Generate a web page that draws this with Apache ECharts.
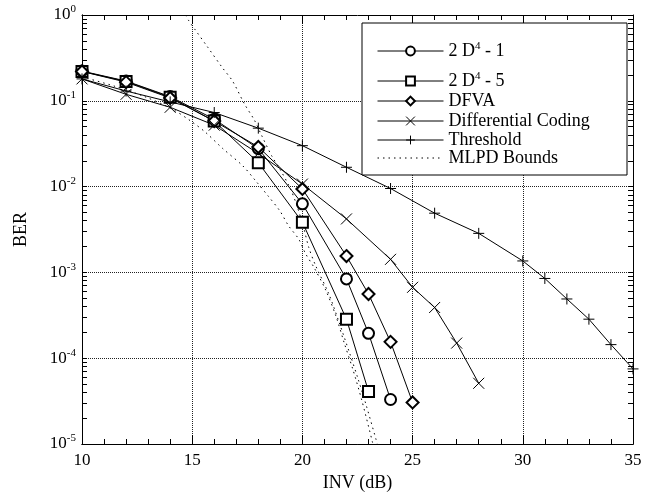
<!DOCTYPE html>
<html>
<head>
<meta charset="utf-8">
<script src="https://cdn.jsdelivr.net/npm/echarts@6/dist/echarts.min.js"></script>
<style>
html, body { margin: 0; padding: 0; background: #fff; }
#chart { width: 647px; height: 497px; }
</style>
</head>
<body>
<div id="chart"></div>
<script>
// values (BER vs INV in dB)
var xD4_1 = [10, 12, 14, 16, 18, 20, 22, 23, 24];
var yD4_1 = [0.222, 0.17, 0.112, 0.061, 0.0277, 0.0063, 8.4e-4, 1.95e-4, 3.3e-5];

var xD4_5 = [10, 12, 14, 16, 18, 20, 22, 23];
var yD4_5 = [0.22, 0.168, 0.11, 0.058, 0.019, 0.00385, 2.85e-4, 4.1e-5];

var xDfva = [10, 12, 14, 16, 18, 20, 22, 23, 24, 25];
var yDfva = [0.22, 0.165, 0.108, 0.058, 0.029, 0.0094, 0.00155, 5.6e-4, 1.55e-4, 3.05e-5];

var xDiff = [10, 12, 14, 16, 18, 20, 22, 24, 25, 26, 27, 28];
var yDiff = [0.18, 0.119, 0.084, 0.052, 0.0243, 0.0107, 0.0042, 0.00142, 6.7e-4, 3.9e-4, 1.5e-4, 5.1e-5];

var xThr = [10, 12, 14, 16, 18, 20, 22, 24, 26, 28, 30, 31, 32, 33, 34, 35];
var yThr = [0.18, 0.13, 0.097, 0.073, 0.048, 0.030, 0.0168, 0.0095, 0.0049, 0.00285, 0.00136, 8.5e-4, 4.9e-4, 2.85e-4, 1.44e-4, 7.5e-5];

// MLPD bounds, two dotted curves
var xBndUp = [14.7, 14.83, 15.14, 15.68, 16.37, 16.83, 17.37, 17.83, 18.14, 18.6, 18.98, 19.45, 19.75, 20.06, 20.29, 20.6, 21.2, 21.67, 22.14, 22.52, 22.9, 23.4];
var yBndUp = [1.0, 0.87, 0.67, 0.43, 0.243, 0.17, 0.092, 0.059, 0.04, 0.023, 0.016, 0.0095, 0.006, 0.0033, 0.00195, 0.0012, 5.6e-4, 2.6e-4, 1.15e-4, 5.8e-5, 2.8e-5, 1e-5];
var xBndLo = [10, 11.44, 12.8, 14.06, 14.98, 15.6, 16.37, 17.3, 17.9, 18.44, 18.98, 19.37, 19.83, 20.14, 20.52, 21.06, 21.52, 21.9, 22.29, 22.7, 23.2];
var yBndLo = [0.19, 0.149, 0.113, 0.081, 0.057, 0.043, 0.028, 0.0174, 0.0115, 0.0078, 0.0052, 0.0035, 0.00245, 0.00166, 0.00115, 6.2e-4, 3.1e-4, 1.5e-4, 7.4e-5, 3.2e-5, 1e-5];

var legendNames = ['2 D4 - 1', '2 D4 - 5', 'DFVA', 'Differential Coding', 'Threshold', 'MLPD Bounds'];
var legendRows = [51, 81, 102, 122, 141, 159];

var yTicks = [];
for (var e = -5; e < 0; e++) {
    for (var k = 1; k <= 9; k++) yTicks.push(+(k * Math.pow(10, e)).toPrecision(3));
}
yTicks.push(1);

function pairs(xs, ys) {
    return xs.map(function (x, i) { return [x, ys[i]]; });
}

var font = 'Liberation Serif';
var xMark = 'path://M0,0L10,10M10,0L0,10';
var plusMark = 'path://M5,0L5,10M0,5L10,5';

function lineSeries(name, data, symbol, size) {
    return {
        name: name,
        type: 'line',
        data: data,
        symbol: symbol,
        symbolSize: size,
        showSymbol: true,
        lineStyle: { color: '#000', width: 1 },
        itemStyle: { color: '#000', borderColor: '#000', borderWidth: 1 },
        emphasis: { disabled: true }
    };
}

// axis that only draws the frame line and inward ticks
function xTickAxis(pos) {
    return {
        type: 'value', position: pos,
        min: 10, max: 35, interval: 5,
        axisLine: { show: true, lineStyle: { color: '#000', width: 1 } },
        axisTick: { show: true, inside: true, length: 9, lineStyle: { color: '#000', width: 1 } },
        minorTick: { show: true, splitNumber: 5, length: 5, lineStyle: { color: '#000', width: 1 } },
        axisLabel: { show: false },
        splitLine: { show: false }
    };
}
function yTickAxis(pos) {
    return {
        type: 'log', position: pos,
        min: 1e-5, max: 1,
        axisLine: { show: true, lineStyle: { color: '#000', width: 1 } },
        axisTick: { show: true, inside: true, length: 5, customValues: yTicks, lineStyle: { color: '#000', width: 1 } },
        axisLabel: { show: false },
        splitLine: { show: false }
    };
}

var chart = echarts.init(document.getElementById('chart'));

var legends = legendNames.map(function (n, i) {
    return {
        data: [n],
        left: 377,
        top: legendRows[i] - 10,
        padding: 0,
        itemWidth: 66,
        itemHeight: 11,
        selectedMode: false,
        lineStyle: { width: 1 },
        itemStyle: n === 'MLPD Bounds' ? { opacity: 0 } : { borderWidth: 1 },
        formatter: function (name) {
            if (name.indexOf('2 D4') === 0) return '{t|2 D}{s|4}{t|' + name.slice(4) + '}';
            return '{t|' + name + '}';
        },
        textStyle: {
            fontFamily: font, fontSize: 18, color: '#000',
            rich: {
                t: { fontFamily: font, fontSize: 18, lineHeight: 20, color: '#000' },
                s: { fontFamily: font, fontSize: 11, lineHeight: 10, verticalAlign: 'top', color: '#000' }
            }
        }
    };
});

var option = {
    grid: { left: 82, right: 14, top: 15, bottom: 48 },
    legend: legends,
    graphic: [{
        type: 'rect',
        shape: { x: 362, y: 23, width: 265, height: 152 },
        style: { fill: '#fff', stroke: '#000', lineWidth: 1 },
        z: 4
    }],
    xAxis: [{
        type: 'value',
        min: 10, max: 35, interval: 5,
        name: 'INV (dB)', nameLocation: 'middle', nameGap: 30,
        nameTextStyle: { fontFamily: font, fontSize: 18, color: '#000' },
        axisLine: { show: true, lineStyle: { color: '#000', width: 1 } },
        axisTick: { show: false },
        axisLabel: { fontFamily: font, fontSize: 17, color: '#000', margin: 8 },
        splitLine: { show: true, lineStyle: { type: 'dotted', color: '#222', width: 1 } }
    }, xTickAxis('bottom'), xTickAxis('top')],
    yAxis: [{
        type: 'log',
        min: 1e-5, max: 1,
        name: 'BER', nameLocation: 'middle', nameGap: 52, nameRotate: 90,
        nameTextStyle: { fontFamily: font, fontSize: 18, color: '#000' },
        axisLine: { show: true, lineStyle: { color: '#000', width: 1 } },
        axisTick: { show: false },
        axisLabel: {
            margin: 6,
            formatter: function (v) {
                return '{b|10}{s|' + Math.round(Math.log10(v)) + '}';
            },
            rich: {
                b: { fontFamily: font, fontSize: 17, lineHeight: 22, color: '#000' },
                s: { fontFamily: font, fontSize: 11, lineHeight: 10, verticalAlign: 'top', color: '#000' }
            }
        },
        splitLine: { show: true, lineStyle: { type: 'dotted', color: '#222', width: 1 } }
    }, yTickAxis('left'), yTickAxis('right')],
    series: [
        lineSeries('2 D4 - 1', pairs(xD4_1, yD4_1), 'emptyCircle', 11),
        lineSeries('2 D4 - 5', pairs(xD4_5, yD4_5), 'emptyRect', 11),
        lineSeries('DFVA', pairs(xDfva, yDfva), 'emptyDiamond', 12),
        lineSeries('Differential Coding', pairs(xDiff, yDiff), xMark, 11),
        lineSeries('Threshold', pairs(xThr, yThr), plusMark, 11),
        {
            name: 'MLPD Bounds', type: 'line', data: pairs(xBndUp, yBndUp),
            symbol: 'none', smooth: 0.3,
            lineStyle: { color: '#000', width: 1, type: [1.5, 4] }, itemStyle: { color: '#000' },
            emphasis: { disabled: true }
        },
        {
            name: 'MLPD Bounds', type: 'line', data: pairs(xBndLo, yBndLo),
            symbol: 'none', smooth: 0.3,
            lineStyle: { color: '#000', width: 1, type: [1.5, 4] }, itemStyle: { color: '#000' },
            emphasis: { disabled: true }
        }
    ]
};

chart.setOption(option);
</script>
</body>
</html>
